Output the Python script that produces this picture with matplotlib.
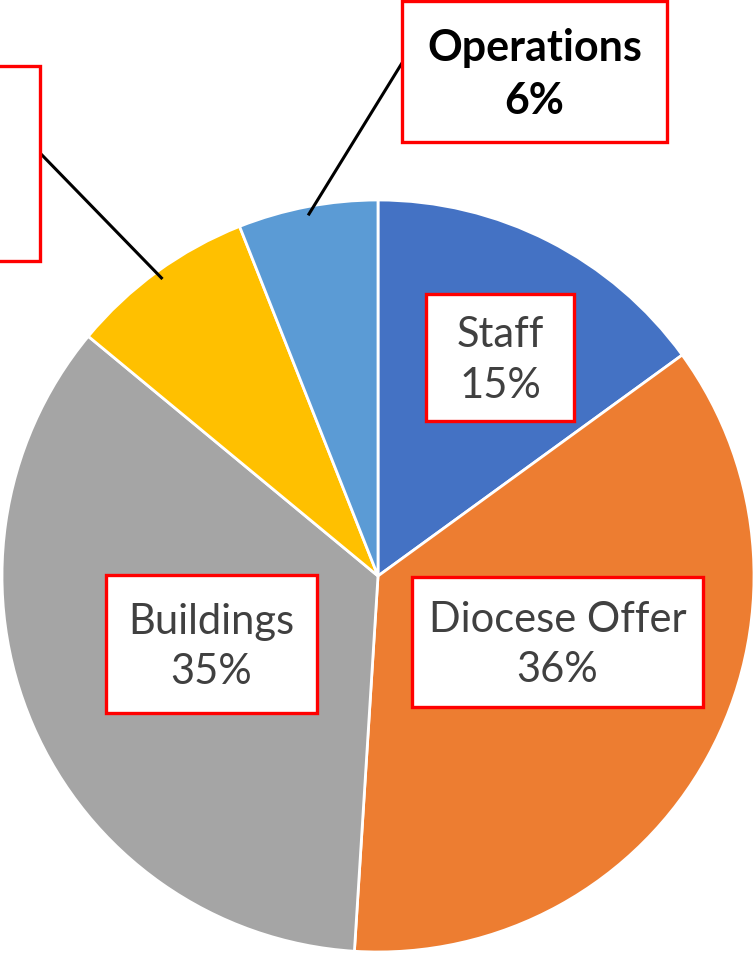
import numpy as np
import matplotlib.pyplot as plt
from matplotlib.patches import Rectangle

# slices, clockwise from 12 o'clock
categories = ['Staff', 'Diocese Offer', 'Buildings', 'Other', 'Operations']
shares = [15, 36, 35, 8, 6]
colors = ['#4472C4', '#ED7D31', '#A5A5A5', '#FFC000', '#5B9BD5']

W, H = 753, 954
# label boxes in pixel coords (left, top, right, bottom), bold flag, leader line
boxes = {
    'Staff': ((426, 295, 574, 422), False, False),
    'Diocese Offer': ((412, 578, 703, 708), False, False),
    'Buildings': ((106, 576, 317, 714), False, False),
    'Other': ((-230, 67, 40, 262), True, True),
    'Operations': ((402, 2, 667, 143), True, True),
}

plt.rcParams['font.family'] = ['Lato', 'DejaVu Sans']
fig = plt.figure(figsize=(W / 100, H / 100), dpi=100)
ax = fig.add_axes([0, 0, 1, 1])

cx, cy, R = 378, H - 577, 376
wedges, _ = ax.pie(shares, colors=colors, startangle=90, counterclock=False,
                   center=(cx, cy), radius=R, frame=True,
                   wedgeprops=dict(edgecolor='white', linewidth=2))
ax.set_xlim(0, W)
ax.set_ylim(0, H)
ax.axis('off')

for w, name, val in zip(wedges, categories, shares):
    (l, t, r, b), bold, leader = boxes[name]
    rect = Rectangle((l, H - b), r - l, b - t, facecolor='white', edgecolor='#FF0000',
                     linewidth=2.4, joinstyle='miter', zorder=5)
    ax.add_patch(rect)
    # the "Other" label lies outside the visible area in the reference
    if l >= 0:
        ax.text((l + r) / 2, H - (t + b) / 2 - 2, f'{name}\n{val}%', ha='center', va='center',
                fontsize=31 if bold else 30, linespacing=1.4,
                color='black' if bold else '#404040',
                fontweight='bold' if bold else 'normal', zorder=6)
    if leader:
        mid = np.deg2rad((w.theta1 + w.theta2) / 2)
        px, py = cx + 0.98 * R * np.cos(mid), cy + 0.98 * R * np.sin(mid)
        bx = l if name == 'Operations' else r
        by = H - (t + 62) if name == 'Operations' else H - (t + 87)
        ax.plot([px, bx], [py, by], color='black', linewidth=2.2, zorder=4)

fig.savefig('out.png', dpi=100)
